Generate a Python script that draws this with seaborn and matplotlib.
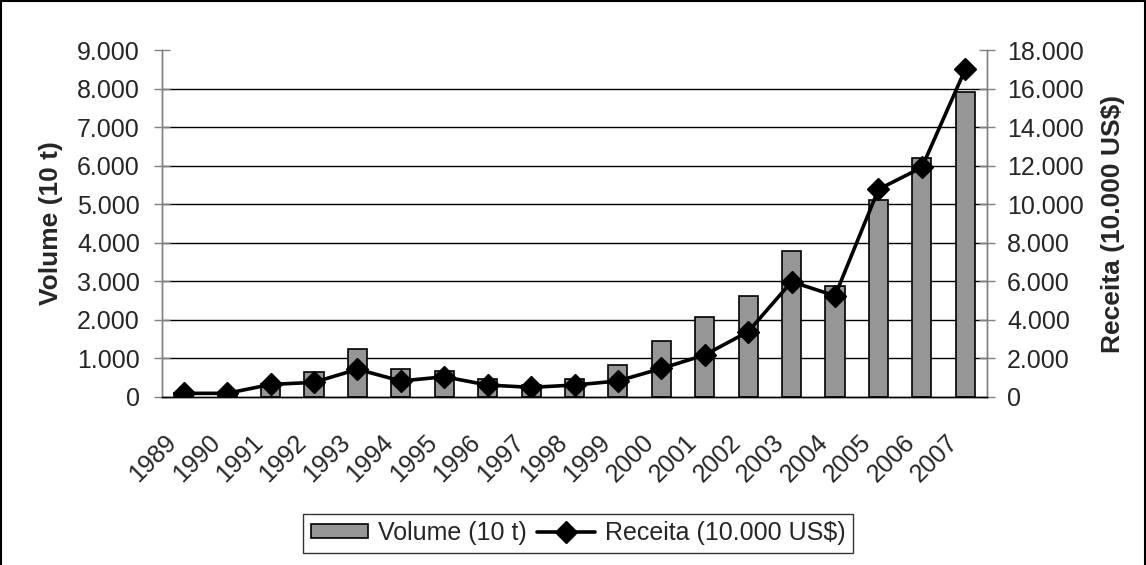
import numpy as np
import pandas as pd
import matplotlib
matplotlib.use("Agg")
import matplotlib.pyplot as plt
from matplotlib.ticker import FixedLocator, FuncFormatter, MultipleLocator
from matplotlib.lines import Line2D
from matplotlib.transforms import ScaledTranslation
import seaborn as sns

years = [str(y) for y in range(1989, 2008)]
volume = [110, 90, 330, 660, 1240, 730, 670, 470, 300, 470, 820, 1450,
          2070, 2630, 3780, 2890, 5110, 6200, 7920]
receita = [190, 190, 650, 760, 1440, 830, 1050, 620, 500, 620, 830, 1480,
           2180, 3390, 5980, 5250, 10770, 11910, 17000]

vol_label = "Volume (10 t)"
rec_label = "Receita (10.000 US$)"

sns.set_theme(style="white")
plt.rcParams["font.family"] = ["Liberation Sans", "DejaVu Sans"]

df = pd.DataFrame({"ano": years, "volume": volume, "receita": receita})

fig = plt.figure(figsize=(11.46, 5.65), dpi=100)
ax = fig.add_axes([162 / 1146, 1 - 397 / 565, (987 - 162) / 1146, (397 - 50) / 565])

sns.barplot(data=df, x="ano", y="volume", ax=ax, color="#969696",
            edgecolor="black", linewidth=1.2, width=0.44, saturation=1)
ax.set_ylim(0, 9000)
ax.set_xlim(-0.5, len(years) - 0.5)

# horizontal gridlines at every labelled level except the top
for v in range(1000, 9000, 1000):
    ax.axhline(v, color="black", lw=1, zorder=0.5)

ax2 = ax.twinx()
ax2.plot(np.arange(len(years)), df["receita"], color="black", lw=2.6,
         marker="D", ms=11, mec="black", mfc="black")
ax2.set_ylim(0, 18000)
ax2.set_xlim(-0.5, len(years) - 0.5)

fmt = FuncFormatter(lambda v, p: f"{int(v):,}".replace(",", "."))
ax.yaxis.set_major_locator(MultipleLocator(1000))
ax2.yaxis.set_major_locator(MultipleLocator(2000))
ax.yaxis.set_major_formatter(fmt)
ax2.yaxis.set_major_formatter(fmt)

for a in (ax, ax2):
    a.spines["top"].set_visible(False)
    a.spines["left"].set_color("#808080")
    a.spines["right"].set_color("#808080")
    a.spines["bottom"].set_color("black")
    for s in a.spines.values():
        s.set_linewidth(1)

tick_fs = 18
ax.tick_params(axis="y", direction="inout", length=12, width=1,
               color="#808080", labelsize=tick_fs, pad=10)
ax2.tick_params(axis="y", direction="inout", length=12, width=1,
                color="#808080", labelsize=tick_fs, pad=8.5)

# category boundaries carry the tick marks, labels sit at the centres
ax.set_xticks(np.arange(len(years)))
ax.set_xticklabels(years, rotation=45, ha="right", va="center",
                   rotation_mode="anchor", fontsize=tick_fs)
ax.tick_params(axis="x", which="major", length=0, pad=30)
shift = ScaledTranslation(-8 / 72, 0, fig.dpi_scale_trans)
for lbl in ax.get_xticklabels():
    lbl.set_transform(lbl.get_transform() + shift)
ax.xaxis.set_minor_locator(FixedLocator(np.arange(-0.5, len(years), 1)))
ax.tick_params(axis="x", which="minor", direction="inout", length=12,
               width=1, color="#808080")
ax2.tick_params(axis="x", which="both", length=0)

ax.set_xlabel("")
ax.set_ylabel(vol_label, fontsize=19, fontweight="bold", labelpad=10)
ax2.set_ylabel(rec_label, fontsize=19, fontweight="bold", labelpad=12)

bar_handle = ax.patches[0]
line_handle = Line2D([], [], color="black", lw=2.6, marker="D", ms=11)
leg = fig.legend([bar_handle, line_handle], [vol_label, rec_label],
                 loc="center", bbox_to_anchor=(578 / 1146, 1 - 533 / 565),
                 ncol=2, fontsize=18, frameon=True, fancybox=False,
                 edgecolor="black", handlelength=2.3, handleheight=0.45,
                 handletextpad=0.4, columnspacing=0.4, borderpad=0.3,
                 borderaxespad=0)
leg.get_frame().set_linewidth(1)

# outer chart border
for xs, ys in (([0.001, 0.001], [0, 0.998]), ([0.001, 0.999], [0.998, 0.998]),
               ([0.999, 0.999], [0, 0.998])):
    fig.add_artist(Line2D(xs, ys, color="black", lw=1.5,
                          transform=fig.transFigure))

fig.savefig("out.png", dpi=100)
